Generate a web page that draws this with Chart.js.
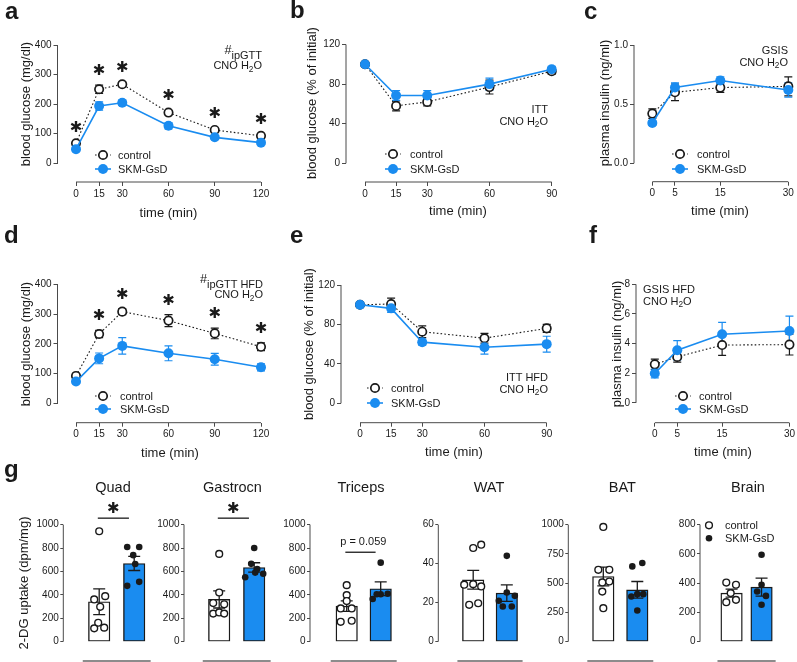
<!DOCTYPE html>
<html><head><meta charset="utf-8">
<script src="https://cdn.jsdelivr.net/npm/chart.js@4/dist/chart.umd.min.js"></script>
<style>
html,body{margin:0;padding:0;background:#fff;}
#wrap{position:relative;width:797px;height:662px;overflow:hidden;font-family:"Liberation Sans",Arial,Helvetica,sans-serif;color:#1a1a1a;background:#fff;}
canvas{position:absolute;left:0;top:0;}
.t{position:absolute;white-space:nowrap;line-height:1;}
.sb{font-size:0.75em;position:relative;top:0.3em;}
.hs{font-size:1.15em;position:relative;top:-0.35em;}
</style></head><body><div id="wrap"></div>
<script>
// ---------------- DATA ----------------
// a: ipGTT (chow)
const gttTime = [0, 15, 30, 60, 90, 120];
const gttCtrl = [67, 250, 267, 171, 112, 92];
const gttCtrlSem = [5, 14, 8, 7, 6, 6];
const gttSkm = [47, 193, 204, 126, 87, 69];
const gttSkmSem = [5, 14, 9, 10, 6, 6];
const gttSig = [1, 1, 1, 1, 1, 1];
// b: ITT (chow)
const ittTime = [0, 15, 30, 60, 90];
const ittCtrl = [100, 58, 62, 77, 93];
const ittCtrlSem = [0, 5, 4, 7, 3];
const ittSkm = [100, 68.5, 68.5, 80, 95];
const ittSkmSem = [0, 5, 5, 6, 3];
// c: GSIS (chow)
const gsisTime = [0, 5, 15, 30];
const gsisCtrl = [0.42, 0.60, 0.64, 0.65];
const gsisCtrlSem = [0.04, 0.07, 0.04, 0.08];
const gsisSkm = [0.34, 0.64, 0.70, 0.62];
const gsisSkmSem = [0.02, 0.04, 0.03, 0.06];
// d: ipGTT HFD
const hgttCtrl = [92, 233, 308, 278, 235, 190];
const hgttCtrlSem = [6, 12, 10, 20, 18, 13];
const hgttSkm = [73, 151, 193, 168, 148, 121];
const hgttSkmSem = [5, 18, 28, 25, 20, 12];
const hgttSig = [0, 1, 1, 1, 1, 1];
// e: ITT HFD
const hittCtrl = [100, 100.7, 72.6, 66, 76];
const hittCtrlSem = [0, 6, 6, 5, 4];
const hittSkm = [100, 96.3, 62, 56.8, 60];
const hittSkmSem = [0, 4, 3, 7, 8];
// f: GSIS HFD
const hgsisCtrl = [2.6, 3.1, 3.9, 3.93];
const hgsisCtrlSem = [0.35, 0.35, 0.7, 0.7];
const hgsisSkm = [1.98, 3.55, 4.63, 4.85];
const hgsisSkmSem = [0.3, 0.65, 0.8, 1.0];
// tick labels
const gttXTicks = [0, 15, 30, 60, 90, 120];
const gttYTicks = [0, 100, 200, 300, 400];
const ittXTicks = [0, 15, 30, 60, 90];
const ittYTicks = [0, 40, 80, 120];
const gsisXTicks = [0, 5, 15, 30];
const gsisYTicks = [0, 0.5, 1.0];
const hgsisYTicks = [0, 2, 4, 6, 8];
// g: 2-DG uptake (bar means, SEM, individual animals)
const groups = ['control', 'SKM-GsD'];
const quadMean = [341, 668], quadSem = [110, 60];
const quadCtrl = [943, 361, 389, 298, 162, 114, 120];
const quadSkm = [809, 809, 739, 663, 477, 511];
const gasMean = [361, 634], gasSem = [73, 40];
const gasCtrl = [750, 420, 330, 320, 240, 250, 240];
const gasSkm = [800, 665, 550, 590, 580, 620];
const triMean = [304, 452], triSem = [45, 59];
const triCtrl = [483, 398, 347, 284, 284, 170, 179];
const triSkm = [675, 365, 405, 410, 405];
const watMean = [31.7, 24.9], watSem = [4.8, 4.2];
const watCtrl = [48, 49.7, 29.2, 29.5, 28.3, 18.9, 19.7];
const watSkm = [44, 25.2, 23.5, 21, 18, 18];
const batMean = [557, 443], batSem = [80, 71];
const batCtrl = [980, 614, 614, 506, 514, 428, 286];
const batSkm = [643, 672, 386, 406, 406, 266];
const brainMean = [332, 373], brainSem = [27, 61];
const brainCtrl = [404, 389, 332, 270, 286];
const brainSkm = [594, 389, 343, 313, 252];
const ticks1000 = [0, 200, 400, 600, 800, 1000];
const ticksWat = [0, 20, 40, 60];
const ticksBat = [0, 250, 500, 750, 1000];
const ticksBrain = [0, 200, 400, 600, 800];

// dot scatter offsets (px, style only)
const jQuadC = [0, -5, 6, 1, -1, -5, 5], jQuadS = [-7, 5, -1, 1, -7, 5];
const jGasC = [0, 0, -6, 5, -6, 0, 5], jGasS = [0, -3, -9, 1, 9, 3];
const jTriC = [0, 0, 0, -6, 5, -6, 5], jTriS = [0, -8, 0, 7, -4];
const jWatC = [0, 8, -9, 0, 8, -4, 5], jWatS = [0, 0, 8, -8, -4, 5];
const jBatC = [0, -5, 6, -1, 6, -1, 0], jBatS = [-5, 5, -6, 0, 6, 0];
const jBrainC = [-6, 5, -1, -6, 5], jBrainS = [0, 0, -5, 5, 0];

// ---------------- STYLE ----------------
const FONT = '"Liberation Sans", Arial, Helvetica, sans-serif';
const BLUE = '#1a8cf0';
const INK = '#1a1a1a';
const AXC = '#4a4a4a';
const W = 797, H = 662;
const wrap = document.getElementById('wrap');

function mkCanvas(){
  const c = document.createElement('canvas');
  c.width = W; c.height = H; c.style.width = W + 'px'; c.style.height = H + 'px';
  wrap.appendChild(c); return c;
}
function drawStar(ctx, x, y){
  ctx.save(); ctx.fillStyle = INK; ctx.font = '15px "DejaVu Sans"';
  ctx.textAlign = 'center'; ctx.textBaseline = 'middle';
  ctx.fillText('\u2731', x, y); ctx.restore();
}
function legendSym(ctx, x, y, ctrl){
  ctx.save();
  if (ctrl){
    ctx.strokeStyle = INK; ctx.lineWidth = 1.1; ctx.setLineDash([1.6, 2.2]);
    ctx.beginPath(); ctx.moveTo(x - 8, y); ctx.lineTo(x + 8, y); ctx.stroke();
    ctx.setLineDash([]); ctx.lineWidth = 1.7; ctx.fillStyle = '#fff';
    ctx.beginPath(); ctx.arc(x, y, 4.2, 0, Math.PI * 2); ctx.fill(); ctx.stroke();
  } else {
    ctx.strokeStyle = BLUE; ctx.lineWidth = 1.6;
    ctx.beginPath(); ctx.moveTo(x - 8, y); ctx.lineTo(x + 8, y); ctx.stroke();
    ctx.fillStyle = BLUE; ctx.beginPath(); ctx.arc(x, y, 5, 0, Math.PI * 2); ctx.fill();
  }
  ctx.restore();
}

function lineChart(p){
  const c = mkCanvas();
  const YW = 40, XH = 30;
  const plug = {
    id: 'lp' + p.id,
    beforeDatasetsDraw(ch){
      const ctx = ch.ctx, ca = ch.chartArea, x = ch.scales.x, y = ch.scales.y;
      ctx.save();
      ctx.strokeStyle = AXC; ctx.lineWidth = 1;
      ctx.beginPath();
      ctx.moveTo(ca.left, y.getPixelForValue(p.yt[0]));
      ctx.lineTo(ca.left, y.getPixelForValue(p.yt[p.yt.length - 1]));
      ctx.moveTo(x.getPixelForValue(p.xt[0]), ca.bottom);
      ctx.lineTo(x.getPixelForValue(p.xt[p.xt.length - 1]), ca.bottom);
      ctx.stroke();
      [[p.ctrl, p.ctrlSem, INK], [p.skm, p.skmSem, BLUE]].forEach(([v, s, col]) => {
        ctx.strokeStyle = col; ctx.lineWidth = 1.2; ctx.beginPath();
        p.t.forEach((t, i) => {
          if (!s[i]) return;
          const px = x.getPixelForValue(t), a = y.getPixelForValue(v[i] - s[i]), b = y.getPixelForValue(v[i] + s[i]);
          ctx.moveTo(px, a); ctx.lineTo(px, b);
          ctx.moveTo(px - 4, a); ctx.lineTo(px + 4, a);
          ctx.moveTo(px - 4, b); ctx.lineTo(px + 4, b);
        });
        ctx.stroke();
      });
      ctx.restore();
    },
    afterDatasetsDraw(ch){
      const ctx = ch.ctx, x = ch.scales.x, y = ch.scales.y;
      if (p.sig) p.t.forEach((t, i) => {
        if (p.sig[i]) drawStar(ctx, x.getPixelForValue(t), y.getPixelForValue(p.ctrl[i] + p.ctrlSem[i]) - 14);
      });
      legendSym(ctx, p.leg[0], p.leg[1], true);
      legendSym(ctx, p.leg[0], p.leg[2], false);
    }
  };
  const tickCommon = (cb) => ({color: INK, font: {family: FONT, size: 10}, padding: 2, maxRotation: 0, autoSkip: false, callback: cb});
  const gridCommon = {drawOnChartArea: false, drawTicks: true, tickLength: 4, color: AXC, lineWidth: 1};
  new Chart(c, {
    type: 'line',
    data: {datasets: [
      {label: groups[1], data: p.t.map((t, i) => ({x: t, y: p.skm[i]})), borderColor: BLUE, borderWidth: 1.6,
       pointRadius: 5, pointBackgroundColor: BLUE, pointBorderColor: BLUE, pointBorderWidth: 0, order: 0, clip: false, tension: 0},
      {label: groups[0], data: p.t.map((t, i) => ({x: t, y: p.ctrl[i]})), borderColor: INK, borderWidth: 1.1, borderDash: [1.6, 2.2],
       pointRadius: 4.2, pointBackgroundColor: '#fff', pointBorderColor: INK, pointBorderWidth: 1.7, order: 1, clip: false, tension: 0}
    ]},
    options: {
      responsive: false, maintainAspectRatio: false, animation: false, devicePixelRatio: 1, events: [],
      layout: {autoPadding: false, padding: {left: p.area[0] - YW, top: p.area[1], right: W - p.area[2], bottom: H - p.area[3] - XH}},
      plugins: {legend: {display: false}, tooltip: {enabled: false}},
      scales: {
        x: {type: 'linear', min: p.xmin, max: p.xt[p.xt.length - 1], offset: false,
            afterBuildTicks: s => { s.ticks = p.xt.map(v => ({value: v})); }, afterFit: s => { s.height = XH; },
            grid: gridCommon, border: {display: false}, ticks: tickCommon(v => String(v))},
        y: {type: 'linear', min: p.ymin, max: p.yt[p.yt.length - 1],
            afterBuildTicks: s => { s.ticks = p.yt.map(v => ({value: v})); }, afterFit: s => { s.width = YW; },
            grid: gridCommon, border: {display: false}, ticks: tickCommon(p.yfmt || (v => String(v)))}
      }
    },
    plugins: [plug]
  });
}

function barChart(p){
  const c = mkCanvas();
  const YW = 40, PW = 110;
  const sp = p.sp, xmin = (p.ax - p.cc) / sp, xmax = xmin + PW / sp;
  const top = 524.6, bot = 641.7;
  const plug = {
    id: 'bp' + p.id,
    beforeDatasetsDraw(ch){
      const ctx = ch.ctx, ca = ch.chartArea, x = ch.scales.x, y = ch.scales.y;
      ctx.save();
      ctx.strokeStyle = AXC; ctx.lineWidth = 1;
      ctx.beginPath(); ctx.moveTo(ca.left, y.getPixelForValue(0)); ctx.lineTo(ca.left, y.getPixelForValue(p.yt[p.yt.length - 1])); ctx.stroke();
      ctx.strokeStyle = '#8c8c8c'; ctx.lineWidth = 2;
      ctx.beginPath(); ctx.moveTo(x.getPixelForValue(-0.47), 661); ctx.lineTo(x.getPixelForValue(1.47), 661); ctx.stroke();
      if (p.sigY !== undefined){
        const yy = y.getPixelForValue(p.sigY);
        ctx.strokeStyle = INK; ctx.lineWidth = 1.3;
        ctx.beginPath(); ctx.moveTo(x.getPixelForValue(-0.04), yy); ctx.lineTo(x.getPixelForValue(0.85), yy); ctx.stroke();
        if (p.star) drawStar(ctx, x.getPixelForValue(0.4), yy - 9.5);
      }
      ctx.restore();
    },
    afterDatasetDraw(ch, args){
      if (args.index !== 0) return;
      const ctx = ch.ctx, x = ch.scales.x, y = ch.scales.y;
      ctx.save(); ctx.strokeStyle = INK; ctx.lineWidth = 1.3; ctx.beginPath();
      [0, 1].forEach(i => {
        const px = x.getPixelForValue(i), a = y.getPixelForValue(p.mean[i] - p.sem[i]), b = y.getPixelForValue(p.mean[i] + p.sem[i]);
        ctx.moveTo(px, a); ctx.lineTo(px, b);
        ctx.moveTo(px - 6, a); ctx.lineTo(px + 6, a);
        ctx.moveTo(px - 6, b); ctx.lineTo(px + 6, b);
      });
      ctx.stroke(); ctx.restore();
    },
    afterDatasetsDraw(ch){
      if (!p.leg) return;
      const ctx = ch.ctx;
      ctx.save();
      ctx.strokeStyle = INK; ctx.lineWidth = 1.4; ctx.fillStyle = '#fff';
      ctx.beginPath(); ctx.arc(p.leg[0], p.leg[1], 3.4, 0, Math.PI * 2); ctx.fill(); ctx.stroke();
      ctx.fillStyle = INK; ctx.beginPath(); ctx.arc(p.leg[0], p.leg[2], 3.3, 0, Math.PI * 2); ctx.fill();
      ctx.restore();
    }
  };
  new Chart(c, {
    type: 'bar',
    data: {datasets: [
      {type: 'bar', label: 'mean', data: [{x: 0, y: p.mean[0]}, {x: 1, y: p.mean[1]}], backgroundColor: ['#fff', BLUE],
       borderColor: INK, borderWidth: 1.4, borderSkipped: false, barThickness: 21.5, order: 2},
      {type: 'scatter', label: groups[0], data: p.c.map((v, i) => ({x: p.cj[i] / sp, y: v})), pointRadius: 3.4,
       pointBackgroundColor: '#fff', pointBorderColor: INK, pointBorderWidth: 1.4, order: 1, clip: false},
      {type: 'scatter', label: groups[1], data: p.s.map((v, i) => ({x: 1 + p.sj[i] / sp, y: v})), pointRadius: 3.3,
       pointBackgroundColor: INK, pointBorderColor: INK, pointBorderWidth: 0, order: 0, clip: false}
    ]},
    options: {
      responsive: false, maintainAspectRatio: false, animation: false, devicePixelRatio: 1, events: [],
      layout: {autoPadding: false, padding: {left: p.ax - YW, top: top, right: W - p.ax - PW, bottom: H - bot}},
      plugins: {legend: {display: false}, tooltip: {enabled: false}},
      scales: {
        x: {type: 'linear', display: false, min: xmin, max: xmax, offset: false, bounds: 'data', grid: {offset: false},
            afterBuildTicks: s => { s.ticks = [{value: xmin}, {value: 0}, {value: 1}, {value: xmax}]; }},
        y: {type: 'linear', min: 0, max: p.yt[p.yt.length - 1],
            afterBuildTicks: s => { s.ticks = p.yt.map(v => ({value: v})); }, afterFit: s => { s.width = YW; },
            grid: {drawOnChartArea: false, drawTicks: true, tickLength: 3, color: AXC, lineWidth: 1}, border: {display: false},
            ticks: {color: INK, font: {family: FONT, size: 10}, padding: 1.5, autoSkip: false, callback: v => String(v)}}
      }
    },
    plugins: [plug]
  });
}

// ---------------- CHARTS ----------------
lineChart({id: 'a', t: gttTime, ctrl: gttCtrl, ctrlSem: gttCtrlSem, skm: gttSkm, skmSem: gttSkmSem, sig: gttSig,
  xt: gttXTicks, yt: gttYTicks, xmin: -12, ymin: -64.4, area: [57.5, 45, 261, 182], leg: [103, 155, 169]});
lineChart({id: 'b', t: ittTime, ctrl: ittCtrl, ctrlSem: ittCtrlSem, skm: ittSkm, skmSem: ittSkmSem,
  xt: ittXTicks, yt: ittYTicks, xmin: -9.16, ymin: -18.9, area: [346, 44.5, 551.7, 182], leg: [393, 154, 169]});
lineChart({id: 'c', t: gsisTime, ctrl: gsisCtrl, ctrlSem: gsisCtrlSem, skm: gsisSkm, skmSem: gsisSkmSem,
  xt: gsisXTicks, yt: gsisYTicks, xmin: -4.04, ymin: -0.156, area: [634, 45, 788.3, 181.7], leg: [680, 154, 169],
  yfmt: v => Number(v).toFixed(1)});
lineChart({id: 'd', t: gttTime, ctrl: hgttCtrl, ctrlSem: hgttCtrlSem, skm: hgttSkm, skmSem: hgttSkmSem, sig: hgttSig,
  xt: gttXTicks, yt: gttYTicks, xmin: -12, ymin: -65.2, area: [57.5, 284.3, 261, 422.7], leg: [103, 396, 409]});
lineChart({id: 'e', t: ittTime, ctrl: hittCtrl, ctrlSem: hittCtrlSem, skm: hittSkm, skmSem: hittSkmSem,
  xt: ittXTicks, yt: ittYTicks, xmin: -9.16, ymin: -19.7, area: [341, 285, 546.7, 422.7], leg: [375, 388, 403]});
lineChart({id: 'f', t: gsisTime, ctrl: hgsisCtrl, ctrlSem: hgsisCtrlSem, skm: hgsisSkm, skmSem: hgsisSkmSem,
  xt: gsisXTicks, yt: hgsisYTicks, xmin: -4.19, ymin: -1.34, area: [636, 284.3, 791, 422.7], leg: [683, 396, 409]});

barChart({id: 'q', ax: 63.3, cc: 99.2, sp: 35, mean: quadMean, sem: quadSem, c: quadCtrl, s: quadSkm, cj: jQuadC, sj: jQuadS, yt: ticks1000, sigY: 1055, star: true});
barChart({id: 'g', ax: 184, cc: 219.2, sp: 35, mean: gasMean, sem: gasSem, c: gasCtrl, s: gasSkm, cj: jGasC, sj: jGasS, yt: ticks1000, sigY: 1055, star: true});
barChart({id: 't', ax: 310, cc: 346.7, sp: 34, mean: triMean, sem: triSem, c: triCtrl, s: triSkm, cj: jTriC, sj: jTriS, yt: ticks1000, sigY: 764});
barChart({id: 'w', ax: 438.3, cc: 473.2, sp: 33.6, mean: watMean, sem: watSem, c: watCtrl, s: watSkm, cj: jWatC, sj: jWatS, yt: ticksWat});
barChart({id: 'ba', ax: 568.3, cc: 603.3, sp: 34, mean: batMean, sem: batSem, c: batCtrl, s: batSkm, cj: jBatC, sj: jBatS, yt: ticksBat});
barChart({id: 'br', ax: 700, cc: 735.8, sp: 34, mean: brainMean, sem: brainSem, c: brainCtrl, s: brainSkm, cj: jBrainC, sj: jBrainS, yt: ticksBrain, leg: [709, 525.3, 538.3]});

// ---------------- TEXT ----------------
function T(html, x, base, size, align, bold){
  const d = document.createElement('div'); d.className = 't'; d.innerHTML = html;
  d.style.fontSize = size + 'px'; if (bold) d.style.fontWeight = 'bold';
  d.style.top = (base - 0.8465 * size) + 'px';
  if (align === 'r') d.style.right = (W - x) + 'px';
  else if (align === 'c'){ d.style.left = x + 'px'; d.style.transform = 'translateX(-50%)'; }
  else d.style.left = x + 'px';
  wrap.appendChild(d);
}
function R(html, cx, cy, size){
  const d = document.createElement('div'); d.className = 't'; d.innerHTML = html;
  d.style.fontSize = size + 'px'; d.style.left = cx + 'px'; d.style.top = cy + 'px';
  d.style.transform = 'translate(-50%,-50%) rotate(-90deg)';
  wrap.appendChild(d);
}
const H2O = 'CNO H<span class="sb">2</span>O';
// panel letters
T('a', 5, 19.5, 24, 'l', true); T('b', 290, 18.5, 24, 'l', true); T('c', 584, 19, 24, 'l', true);
T('d', 4, 243.3, 24, 'l', true); T('e', 290, 243.3, 24, 'l', true); T('f', 589, 243.3, 24, 'l', true);
T('g', 4, 477.5, 24, 'l', true);
// axis titles
[[168.5, 217], [458, 215], [720, 215], [170, 457], [454, 456], [723, 456]].forEach(([x, b]) => T('time (min)', x, b, 13, 'c'));
R('blood glucose (mg/dl)', 25, 104, 13);
R('blood glucose (% of initial)', 311, 103, 13);
R('plasma insulin (ng/ml)', 604, 103, 13);
R('blood glucose (mg/dl)', 25, 344, 13);
R('blood glucose (% of initial)', 308, 344, 13);
R('plasma insulin (ng/ml)', 616, 344, 13);
R('2-DG uptake (dpm/mg)', 23, 583, 13);
// annotations
T('<span class="hs">#</span>ipGTT', 262, 58, 11, 'r'); T(H2O, 262, 69.5, 11, 'r');
T('ITT', 548, 113, 11, 'r'); T(H2O, 548, 125, 11, 'r');
T('GSIS', 788, 54, 11, 'r'); T(H2O, 788, 66, 11, 'r');
T('<span class="hs">#</span>ipGTT HFD', 263, 287, 11, 'r'); T(H2O, 263, 298.5, 11, 'r');
T('ITT HFD', 548, 381, 11, 'r'); T(H2O, 548, 393, 11, 'r');
T('GSIS HFD', 643, 293, 11, 'l'); T(H2O, 643, 305, 11, 'l');
// legends
[[118, 155, 169], [410, 154, 169], [697, 154, 169], [120, 396, 409], [391, 388, 403], [699, 396, 409]].forEach(([x, y0, y1]) => {
  T(groups[0], x, y0 + 4, 11, 'l'); T(groups[1], x, y1 + 4, 11, 'l');
});
T(groups[0], 725, 529.5, 11, 'l'); T(groups[1], 725, 542.5, 11, 'l');
// bar titles
[['Quad', 113], ['Gastrocn', 232.5], ['Triceps', 361], ['WAT', 489], ['BAT', 622.3], ['Brain', 748]].forEach(([s, x]) => T(s, x, 492.2, 14.5, 'c'));
T('p = 0.059', 363.3, 545, 11, 'c');
</script></body></html>
